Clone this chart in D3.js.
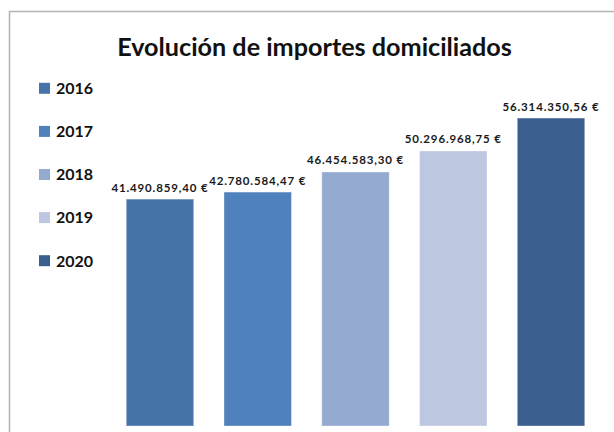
<!DOCTYPE html>
<html><head><meta charset="utf-8">
<script src="https://cdn.jsdelivr.net/npm/d3@7"></script>
<style>html,body{margin:0;padding:0;background:#fff;} svg{display:block;}</style>
</head><body>
<svg id="c" width="614" height="432"></svg>
<script>
const years = ["2016", "2017", "2018", "2019", "2020"];
const values = [41490859.40, 42780584.47, 46454583.30, 50296968.75, 56314350.56];
const valueLabels = ["41.490.859,40 €", "42.780.584,47 €", "46.454.583,30 €", "50.296.968,75 €", "56.314.350,56 €"];
const colors = ["#4674A8", "#4F81BD", "#95AAD0", "#BDC8E0", "#3A5E8D"];
const title = "Evolución de importes domiciliados";

const svg = d3.select("#c");
const font = "Lato, 'Open Sans', sans-serif";

// frame
svg.append("path").attr("d", "M9.5,432 V11.5 H614").attr("fill", "none")
  .attr("stroke", "#b4b4b4").attr("stroke-width", 1.5);

// title
const t = svg.append("text").attr("x", 314.5).attr("y", 56).attr("text-anchor", "middle")
  .attr("font-family", font).attr("font-weight", 700).attr("font-size", 24)
  .attr("fill", "#111").text(title);
const tw = t.node().getComputedTextLength();
t.attr("font-size", 24 * 395 / tw);

const x = d3.scaleBand().domain(years).range([111.1, 599.9]).paddingInner(0.31).paddingOuter(0.155);
const y = d3.scaleLinear().domain([0, 60000000]).range([426, 97.9]);

svg.selectAll("rect.bar").data(years).join("rect").attr("class", "bar")
  .attr("x", d => x(d)).attr("width", x.bandwidth())
  .attr("y", (d, i) => y(values[i])).attr("height", (d, i) => y(0) - y(values[i]))
  .attr("fill", (d, i) => colors[i])
  .attr("stroke", "#ffffff").attr("stroke-opacity", 0.35).attr("stroke-width", 1);

svg.selectAll("text.val").data(years).join("text").attr("class", "val")
  .attr("x", d => x(d) + x.bandwidth() / 2).attr("y", (d, i) => y(values[i]) - 7.5)
  .attr("text-anchor", "middle").attr("font-family", font).attr("font-weight", 700)
  .attr("font-size", 11.5).attr("letter-spacing", 0.85).attr("fill", "#1a1a1a")
  .text((d, i) => valueLabels[i]);

// legend
const ly = d3.scalePoint().domain(years).range([88.3, 260.7]);
const lg = svg.selectAll("g.leg").data(years).join("g").attr("class", "leg")
  .attr("transform", d => `translate(0,${ly(d)})`);
lg.append("rect").attr("x", 39).attr("y", -5.5).attr("width", 11).attr("height", 11)
  .attr("fill", (d, i) => colors[i]);
lg.append("text").attr("x", 56).attr("y", 5.8).attr("font-family", font).attr("font-weight", 700)
  .attr("font-size", 16).attr("fill", "#111").text(d => d);
</script>
</body></html>
